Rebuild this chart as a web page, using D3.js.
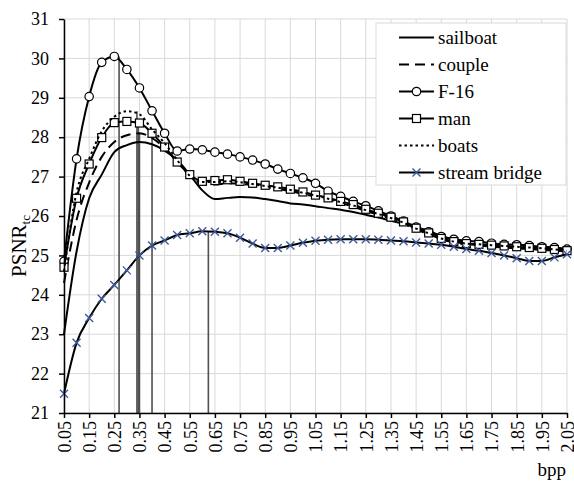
<!DOCTYPE html>
<html>
<head>
<meta charset="UTF-8">
<style>
  body { margin: 0; background: #fff; }
  svg { display: block; }
  text { font-family: "Liberation Serif", "Times New Roman", serif; fill: #000; }
</style>
</head>
<body>
<div id="chart"></div>
<script src="https://d3js.org/d3.v7.min.js"></script>
<script>
// x values (bpp)
var bpp = [0.05,0.10,0.15,0.20,0.25,0.30,0.35,0.40,0.45,0.50,0.55,0.60,0.65,0.70,0.75,0.80,0.85,0.90,0.95,1.00,
           1.05,1.10,1.15,1.20,1.25,1.30,1.35,1.40,1.45,1.50,1.55,1.60,1.65,1.70,1.75,1.80,1.85,1.90,1.95,2.00,2.05];

var xTicks = [0.05,0.15,0.25,0.35,0.45,0.55,0.65,0.75,0.85,0.95,1.05,1.15,1.25,1.35,1.45,1.55,1.65,1.75,1.85,1.95,2.05];
var xTickLabels = ["0.05","0.15","0.25","0.35","0.45","0.55","0.65","0.75","0.85","0.95","1.05",
                   "1.15","1.25","1.35","1.45","1.55","1.65","1.75","1.85","1.95","2.05"];
var yTicks = [21,22,23,24,25,26,27,28,29,30,31];

// PSNR_tc series
var sailboat = [23.0,25.1,26.45,27.05,27.62,27.8,27.88,27.82,27.66,27.42,27.05,26.65,26.43,26.46,26.48,26.47,26.43,26.38,26.32,26.29,
                26.25,26.2,26.16,26.1,26.03,25.96,25.88,25.8,25.72,25.62,25.5,25.4,25.3,25.25,25.22,25.2,25.18,25.16,25.14,25.12,25.1];
var couple = [24.3,25.9,26.85,27.5,27.88,28.05,28.1,27.98,27.72,27.38,27.02,26.82,26.8,26.83,26.82,26.78,26.73,26.69,26.63,26.56,
              26.49,26.42,26.33,26.24,26.13,26.03,25.93,25.81,25.66,25.54,25.41,25.33,25.28,25.26,25.24,25.22,25.2,25.18,25.16,25.13,25.1];
var f16 = [24.85,27.45,29.03,29.9,30.05,29.72,29.25,28.67,28.1,27.65,27.7,27.68,27.62,27.57,27.5,27.42,27.32,27.19,27.08,26.97,
           26.83,26.63,26.5,26.37,26.26,26.13,26.0,25.87,25.72,25.6,25.48,25.41,25.37,25.35,25.31,25.28,25.27,25.25,25.22,25.2,25.16];
var man = [24.7,26.45,27.32,27.99,28.37,28.4,28.36,28.1,27.75,27.37,27.05,26.88,26.9,26.92,26.88,26.83,26.78,26.74,26.68,26.61,
           26.53,26.46,26.37,26.29,26.17,26.07,25.97,25.85,25.69,25.57,25.43,25.35,25.3,25.28,25.26,25.24,25.22,25.2,25.18,25.15,25.12];
var boats = [24.6,26.6,27.45,28.15,28.52,28.66,28.58,28.2,27.85,27.42,27.02,26.86,26.86,26.88,26.86,26.81,26.76,26.72,26.66,26.59,
             26.52,26.44,26.35,26.27,26.15,26.05,25.95,25.83,25.68,25.56,25.43,25.35,25.3,25.28,25.26,25.24,25.22,25.2,25.18,25.15,25.12];
var streamBridge = [21.49,22.78,23.41,23.9,24.25,24.62,25.0,25.25,25.38,25.52,25.56,25.61,25.6,25.56,25.45,25.3,25.19,25.19,25.25,25.32,
                    25.37,25.4,25.41,25.41,25.41,25.4,25.38,25.36,25.33,25.3,25.27,25.22,25.16,25.12,25.06,25.0,24.93,24.86,24.86,24.95,25.03];

// drop lines (bpp, top value)
var dropBpp = [0.269, 0.34, 0.345, 0.35, 0.40, 0.624];
var dropTop = [30.05, 28.66, 28.4, 28.1, 28.2, 25.6];

var seriesNames = ["sailboat", "couple", "F-16", "man", "boats", "stream bridge"];
var seriesValues = [sailboat, couple, f16, man, boats, streamBridge];
var seriesStyle = [
  {dash: null, marker: null},
  {dash: "10,6", marker: null},
  {dash: null, marker: "circle"},
  {dash: null, marker: "square"},
  {dash: "2.5,3", marker: null},
  {dash: null, marker: "cross"}
];

var width = 574, height = 487;
var margin = {top: 19, right: 7, bottom: 74, left: 64};

var svg = d3.select("#chart").append("svg")
  .attr("width", width)
  .attr("height", height);

var x = d3.scaleLinear().domain([0.05, 2.05]).range([margin.left, width - margin.right]);
var y = d3.scaleLinear().domain([21, 31]).range([height - margin.bottom, margin.top]);

// gridlines
svg.append("g")
  .selectAll("line.v")
  .data(xTicks)
  .join("line")
  .attr("x1", d => x(d)).attr("x2", d => x(d))
  .attr("y1", y(21)).attr("y2", y(31))
  .attr("stroke", "#d9d9d9").attr("stroke-width", 1);

svg.append("g")
  .selectAll("line.h")
  .data(yTicks)
  .join("line")
  .attr("x1", x(0.05)).attr("x2", x(2.05))
  .attr("y1", d => y(d)).attr("y2", d => y(d))
  .attr("stroke", "#d9d9d9").attr("stroke-width", 1);

// drop lines
svg.append("g")
  .selectAll("line")
  .data(dropBpp)
  .join("line")
  .attr("x1", d => x(d)).attr("x2", d => x(d))
  .attr("y1", (d, i) => y(dropTop[i])).attr("y2", y(21))
  .attr("stroke", "#505050").attr("stroke-width", 1.6);

// series
var line = d3.line()
  .x((d, i) => x(bpp[i]))
  .y(d => y(d))
  .curve(d3.curveMonotoneX);

function drawMarker(g, type, cx, cy) {
  if (type === "circle") {
    g.append("circle").attr("cx", cx).attr("cy", cy).attr("r", 4.2)
      .attr("fill", "#fff").attr("stroke", "#000").attr("stroke-width", 1.2);
  } else if (type === "square") {
    g.append("rect").attr("x", cx - 4).attr("y", cy - 4).attr("width", 8).attr("height", 8)
      .attr("fill", "#fff").attr("stroke", "#000").attr("stroke-width", 1.2);
  } else if (type === "cross") {
    g.append("path")
      .attr("d", `M${cx-4},${cy-4}L${cx+4},${cy+4}M${cx-4},${cy+4}L${cx+4},${cy-4}`)
      .attr("stroke", "#3d5a99").attr("stroke-width", 1.4).attr("fill", "none");
  }
}

seriesValues.forEach(function(vals, k) {
  var st = seriesStyle[k];
  var g = svg.append("g");
  g.append("path")
    .datum(vals)
    .attr("d", line)
    .attr("fill", "none")
    .attr("stroke", "#000")
    .attr("stroke-width", 2)
    .attr("stroke-dasharray", st.dash);
  if (st.marker) {
    vals.forEach(function(v, i) { drawMarker(g, st.marker, x(bpp[i]), y(v)); });
  }
});

// axes
var yAxis = svg.append("g")
  .attr("transform", `translate(${margin.left},0)`)
  .call(d3.axisLeft(y).tickValues(yTicks).tickSize(5).tickPadding(10).tickSizeOuter(0));
yAxis.select(".domain").attr("stroke", "#000").attr("stroke-width", 1.5);
yAxis.selectAll(".tick line").attr("stroke", "#000").attr("stroke-width", 1.5);
yAxis.selectAll("text").style("font-family", "Liberation Serif").style("font-size", "18px").attr("fill", "#000");

var xAxis = svg.append("g")
  .attr("transform", `translate(0,${y(21)})`)
  .call(d3.axisBottom(x).tickValues(xTicks).tickFormat((d, i) => xTickLabels[i]).tickSize(5).tickSizeOuter(0));
xAxis.select(".domain").attr("stroke", "#000").attr("stroke-width", 1.5);
xAxis.selectAll(".tick line").attr("stroke", "#000").attr("stroke-width", 1.5);
xAxis.selectAll("text")
  .attr("transform", "rotate(-90)")
  .attr("x", -8).attr("y", 0).attr("dy", "0.35em")
  .attr("text-anchor", "end")
  .style("font-family", "Liberation Serif").style("font-size", "18px").attr("fill", "#000");

// axis titles
var yTitle = svg.append("text")
  .attr("transform", "translate(26,246) rotate(-90)")
  .attr("text-anchor", "middle")
  .style("font-size", "21px");
yTitle.append("tspan").text("PSNR");
yTitle.append("tspan").attr("dy", 4).style("font-size", "13px").text("tc");

svg.append("text")
  .attr("x", 566).attr("y", 476)
  .attr("text-anchor", "end")
  .style("font-size", "19px")
  .text("bpp");

// legend
var legend = svg.append("g");
legend.append("rect")
  .attr("x", 376).attr("y", 23).attr("width", 190).attr("height", 162)
  .attr("fill", "#fff").attr("stroke", "#d9d9d9").attr("stroke-width", 1);

seriesNames.forEach(function(name, k) {
  var st = seriesStyle[k];
  var ly = 37.5 + k * 27;
  var g = legend.append("g");
  g.append("line")
    .attr("x1", 399).attr("x2", 434).attr("y1", ly).attr("y2", ly)
    .attr("stroke", "#000").attr("stroke-width", 2)
    .attr("stroke-dasharray", st.dash);
  if (st.marker) drawMarker(g, st.marker, 416.5, ly);
  g.append("text")
    .attr("x", 438).attr("y", ly).attr("dy", "0.32em")
    .style("font-size", "19px")
    .text(name);
});
</script>
</body>
</html>
